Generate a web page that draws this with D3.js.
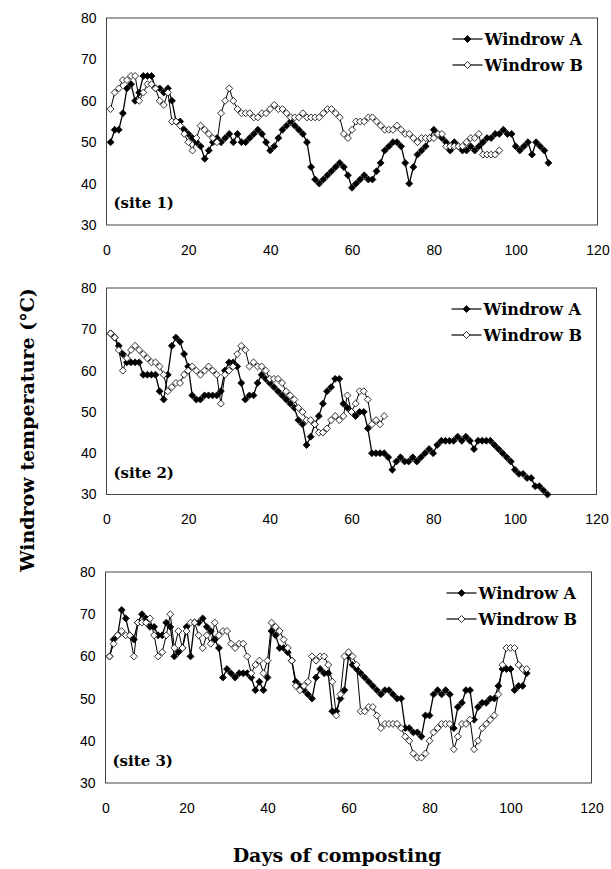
<!DOCTYPE html>
<html>
<head>
<meta charset="utf-8">
<script src="https://cdn.jsdelivr.net/npm/d3@7"></script>
<style>
  body { margin: 0; background: #fff; }
  svg { display: block; }
</style>
</head>
<body>
<div id="chart"></div>
<script>
// ---- data (temperature in °C, one reading per day starting at day 1) ----
const xTicks = [0, 20, 40, 60, 80, 100, 120];
const yTicks = [30, 40, 50, 60, 70, 80];
const seriesNames = ["Windrow A", "Windrow B"];
const siteLabels = ["(site 1)", "(site 2)", "(site 3)"];

const site1A = [50, 53, 53, 57, 63, 64, 60, 62, 66, 66,
                66, 63, 63, 62, 63, 60, 55, 55, 53, 52,
                51, 50, 49, 46, 48, 50, 51, 50, 51, 52,
                50, 52, 50, 50, 51, 52, 53, 52, 50, 48,
                49, 51, 53, 54, 55, 54, 53, 52, 50, 44,
                41, 40, 41, 42, 43, 44, 45, 44, 42, 39,
                40, 41, 42, 41, 41, 43, 45, 48, 49, 50,
                50, 49, 45, 40, 44, 47, 48, 49, 51, 53,
                52, 51, 50, 48, 50, 49, 48, 48, 49, 48,
                49, 50, 51, 51, 52, 52, 53, 52, 52, 49,
                48, 49, 50, 47, 50, 49, 48, 45];
const site1B = [58, 62, 63, 65, 65, 66, 66, 60, 62, 64,
                64, 63, 60, 59, 62, 55, 55, 54, 52, 50,
                48, 51, 54, 53, 52, 51, 50, 57, 60, 63,
                60, 58, 57, 57, 57, 56, 56, 57, 57, 58,
                59, 58, 58, 57, 56, 56, 56, 57, 56, 56,
                56, 56, 57, 58, 58, 57, 56, 52, 51, 53,
                55, 55, 55, 56, 56, 55, 54, 53, 53, 53,
                54, 53, 52, 52, 51, 50, 51, 51, 51, 51,
                52, 52, 49, 49, 49, 49, 49, 50, 51, 51,
                52, 47, 47, 47, 47, 48];

const site2A = [69, 68, 66, 64, 62, 62, 62, 62, 59, 59,
                59, 59, 55, 53, 59, 66, 68, 67, 64, 61,
                54, 53, 53, 54, 54, 54, 54, 55, 60, 62,
                62, 61, 57, 53, 54, 54, 57, 59, 58, 57,
                56, 55, 54, 53, 52, 51, 48, 47, 42, 44,
                47, 49, 52, 55, 56, 58, 58, 52, 51, 50,
                49, 50, 50, 46, 40, 40, 40, 40, 39, 36,
                38, 39, 38, 38, 39, 38, 39, 40, 41, 40,
                42, 43, 43, 43, 43, 44, 43, 44, 43, 41,
                43, 43, 43, 43, 42, 41, 40, 39, 38, 36,
                35, 35, 34, 34, 32, 32, 31, 30];
const site2B = [69, 68, 65, 60, 63, 65, 66, 65, 64, 63,
                62, 62, 61, 59, 55, 56, 57, 57, 59, 60,
                61, 60, 59, 60, 61, 60, 59, 52, 59, 60,
                61, 64, 66, 65, 61, 62, 61, 61, 60, 58,
                58, 58, 57, 55, 54, 53, 51, 50, 48, 48,
                47, 45, 45, 46, 48, 49, 48, 49, 54, 50,
                52, 55, 55, 53, 47, 48, 47, 49];

const site3A = [60, 64, 65, 71, 69, 65, 64, 68, 70, 69,
                67, 67, 65, 65, 68, 67, 60, 61, 62, 67,
                60, 68, 68, 69, 67, 66, 64, 62, 55, 57,
                56, 55, 56, 56, 56, 55, 52, 54, 52, 55,
                66, 65, 62, 62, 61, 59, 54, 53, 52, 51,
                50, 55, 57, 56, 56, 47, 47, 50, 52, 60,
                58, 57, 56, 55, 54, 53, 52, 51, 52, 52,
                51, 50, 50, 43, 43, 42, 42, 41, 46, 46,
                51, 52, 51, 52, 51, 43, 48, 49, 52, 52,
                45, 48, 49, 49, 50, 50, 53, 57, 57, 57,
                52, 53, 53, 56];
const site3B = [60, 63, 65, 66, 65, 65, 60, 68, 68, 68,
                69, 65, 60, 61, 65, 70, 62, 66, 62, 66,
                68, 68, 65, 62, 65, 63, 68, 65, 66, 66,
                63, 62, 63, 63, 60, 56, 58, 59, 56, 59,
                68, 67, 66, 64, 62, 59, 53, 52, 53, 54,
                60, 59, 60, 60, 58, 54, 46, 51, 60, 61,
                60, 58, 47, 47, 48, 48, 46, 43, 44, 44,
                44, 44, 43, 41, 40, 37, 36, 36, 37, 40,
                42, 43, 44, 44, 44, 38, 41, 44, 44, 45,
                38, 40, 43, 44, 45, 46, 51, 58, 62, 62,
                62, 58, 57, 57];

const siteSeries = [[site1A, site1B], [site2A, site2B], [site3A, site3B]];

// ---- layout (pixel frame of each panel) ----
const width = 611, height = 869;
const panelFrames = [
    { left: 106.5, right: 597.5, top: 18,  bottom: 225 },
    { left: 106.5, right: 596.5, top: 288, bottom: 494.5 },
    { left: 105.5, right: 591.5, top: 572, bottom: 783 }
];

const serifFont = "'DejaVu Serif', 'Liberation Serif', serif";
const sansFont = "'Liberation Sans', Arial, sans-serif";

// Square diamond (Excel style), size = area
const squareDiamond = {
    draw(context, size) {
        const r = Math.sqrt(size / 2);
        context.moveTo(0, -r);
        context.lineTo(r, 0);
        context.lineTo(0, r);
        context.lineTo(-r, 0);
        context.closePath();
    }
};
const diamondPath = d3.symbol().type(squareDiamond).size(24)();

const markerStyles = [
    { fill: "#000", stroke: "#000" },   // Windrow A: filled
    { fill: "#fff", stroke: "#000" }    // Windrow B: open
];

const svg = d3.select("#chart")
    .append("svg")
    .attr("width", width)
    .attr("height", height)
    .attr("viewBox", [0, 0, width, height]);

svg.append("rect").attr("width", width).attr("height", height).attr("fill", "#fff");

panelFrames.forEach((frame, p) => {
    const x = d3.scaleLinear().domain([0, 120]).range([frame.left, frame.right]);
    const y = d3.scaleLinear().domain([30, 80]).range([frame.bottom, frame.top]);
    const g = svg.append("g").attr("class", "panel");

    // Frame
    g.append("rect")
        .attr("x", frame.left)
        .attr("y", frame.top)
        .attr("width", frame.right - frame.left)
        .attr("height", frame.bottom - frame.top)
        .attr("fill", "none")
        .attr("stroke", "#444")
        .attr("stroke-width", 1);

    // Axes (labels only, no tick marks)
    const yAxis = g.append("g")
        .attr("transform", `translate(${frame.left},0)`)
        .call(d3.axisLeft(y).tickValues(yTicks).tickSize(0).tickPadding(10));
    const xAxis = g.append("g")
        .attr("transform", `translate(0,${frame.bottom})`)
        .call(d3.axisBottom(x).tickValues(xTicks).tickSize(0).tickPadding(20));
    [xAxis, yAxis].forEach(ax => {
        ax.select(".domain").remove();
        ax.selectAll("text")
            .attr("font-family", sansFont)
            .attr("font-size", 14)
            .attr("fill", "#000");
    });

    // Series: line then markers, A first then B
    siteSeries[p].forEach((values, s) => {
        const line = d3.line()
            .x((d, i) => x(i + 1))
            .y(d => y(d));

        g.append("path")
            .datum(values)
            .attr("d", line)
            .attr("fill", "none")
            .attr("stroke", "#000")
            .attr("stroke-width", s === 0 ? 1.3 : 1);

        g.append("g")
            .selectAll("path")
            .data(values)
            .join("path")
            .attr("d", diamondPath)
            .attr("transform", (d, i) => `translate(${x(i + 1)},${y(d)})`)
            .attr("fill", markerStyles[s].fill)
            .attr("stroke", markerStyles[s].stroke)
            .attr("stroke-width", 0.8);
    });

    // Legend (top right)
    const legend = g.append("g")
        .attr("transform", `translate(${frame.right - 145},${frame.top + 21})`);
    seriesNames.forEach((name, s) => {
        const row = legend.append("g").attr("transform", `translate(0,${s * 26})`);
        row.append("line")
            .attr("x1", 0).attr("x2", 30)
            .attr("stroke", "#000").attr("stroke-width", 1.2);
        row.append("path")
            .attr("d", diamondPath)
            .attr("transform", "translate(15,0)")
            .attr("fill", markerStyles[s].fill)
            .attr("stroke", markerStyles[s].stroke)
            .attr("stroke-width", 0.8);
        row.append("text")
            .attr("x", 32)
            .attr("dy", "0.35em")
            .attr("font-family", serifFont)
            .attr("font-weight", "bold")
            .attr("font-size", 16)
            .text(name);
    });

    // Site label (bottom left)
    g.append("text")
        .attr("x", frame.left + 7)
        .attr("y", frame.bottom - 17)
        .attr("font-family", serifFont)
        .attr("font-weight", "bold")
        .attr("font-size", 15)
        .text(siteLabels[p]);
});

// Axis titles
svg.append("text")
    .attr("transform", "translate(34,430) rotate(-90)")
    .attr("text-anchor", "middle")
    .attr("font-family", serifFont)
    .attr("font-weight", "bold")
    .attr("font-size", 19)
    .text("Windrow temperature (°C)");

svg.append("text")
    .attr("x", 337)
    .attr("y", 862)
    .attr("text-anchor", "middle")
    .attr("font-family", serifFont)
    .attr("font-weight", "bold")
    .attr("font-size", 19)
    .text("Days of composting");
</script>
</body>
</html>
